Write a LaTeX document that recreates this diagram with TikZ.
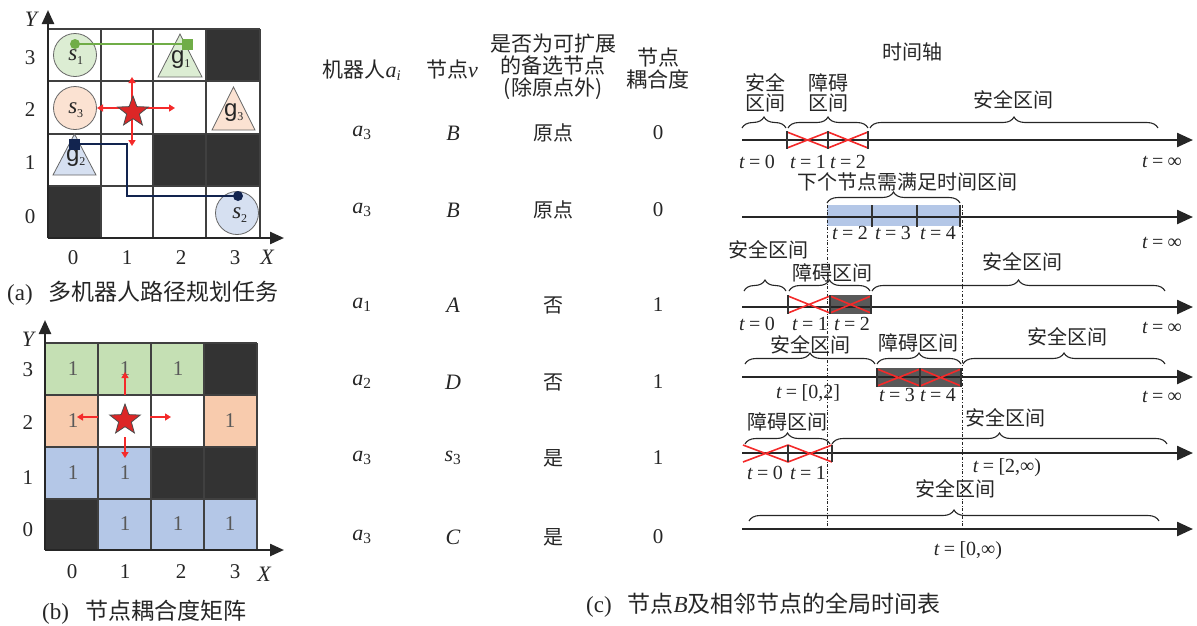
\documentclass[tikz,border=0pt]{standalone}
\usepackage{fontspec}
\setmainfont{Liberation Serif}
\newfontfamily\cjk{Noto Sans CJK SC}
\newfontfamily\gfont{Liberation Sans}
\usetikzlibrary{arrows.meta,shapes.geometric,decorations.pathreplacing,calc}
\definecolor{blk}{HTML}{333333}
\definecolor{dbox}{HTML}{595959}
\definecolor{gL}{HTML}{DCEDD3}
\definecolor{pL}{HTML}{FBE2D2}
\definecolor{bL}{HTML}{D6E0F1}
\definecolor{gM}{HTML}{C5E0B4}
\definecolor{pM}{HTML}{F8CBAD}
\definecolor{bM}{HTML}{B4C7E7}
\definecolor{pgreen}{HTML}{70AD47}
\definecolor{pnavy}{HTML}{12244F}
\definecolor{rd}{HTML}{F42A2A}
\definecolor{txtc}{HTML}{262626}
\newcommand\mi[1]{{\rmfamily\itshape #1}}
\newcommand\sbs[1]{{\rmfamily\textsubscript{#1}}}
\newcommand\tq[1]{{\rmfamily\itshape t}{\rmfamily\hspace{0.22em}=\hspace{0.22em}#1}}
\begin{document}
\begin{tikzpicture}[x=1pt,y=-1pt,
  txt/.style={inner sep=0pt,text=txtc},
  cn/.style={txt,font=\cjk\fontsize{20}{21}\selectfont,align=center},
  cnh/.style={txt,font=\cjk\fontsize{21}{22}\selectfont,align=center},
  captxt/.style={txt,font=\cjk\fontsize{23}{24}\selectfont},
  rm/.style={txt,font=\rmfamily\fontsize{22}{22}\selectfont},
  rmd/.style={txt,font=\rmfamily\fontsize{21}{22}\selectfont},
  tl/.style={txt,font=\rmfamily\fontsize{20}{21}\selectfont},
  num/.style={txt,font=\rmfamily\fontsize{21}{22}\selectfont},
  gl/.style={draw=black!75,line width=1.1pt},
  axarr/.style={line width=2.4pt,draw=txtc,-{Triangle[length=14pt,width=12pt]}},
  tax/.style={line width=2.4pt,draw=txtc,-{Triangle[length=16pt,width=14pt]}},
  tickmark/.style={line width=2.6pt,draw=blk},
  rx/.style={draw=rd,line width=1.6pt},
  rarr/.style={draw=rd,line width=1.6pt,-{Triangle[length=6pt,width=7pt]}},
  rarr2/.style={draw=rd,line width=1.6pt,{Triangle[length=6pt,width=7pt]}-{Triangle[length=6pt,width=7pt]}},
  br/.style={decorate,decoration={brace,amplitude=11pt},line width=1.1pt,draw=txtc},
  dd/.style={dash dot,line width=0.7pt,draw=txtc},
  redstar/.style={star,star points=5,star point ratio=2.4,minimum size=32pt,inner sep=0pt,fill=rd!90!black,draw=black!70,line width=0.8pt},
  cir/.style={circle,minimum size=43pt,inner sep=0pt,draw=black!60,line width=0.8pt},
  tri/.style={draw=black!60,line width=0.8pt},
  lbl/.style={txt,font=\rmfamily\itshape\fontsize{23}{23}\selectfont},
  glbl/.style={txt,font=\gfont\fontsize{24}{24}\selectfont},
  one/.style={txt,text=black!65,font=\rmfamily\fontsize{21}{21}\selectfont}
]
\useasboundingbox (0,0) rectangle (1197,625);

% ================= (a) =================
\fill[blk] (206,29) rectangle (260,81);
\fill[blk] (153,134) rectangle (260,186);
\fill[blk] (48,186) rectangle (101,238);
\foreach \x in {48,101,153,206,260} \draw[gl] (\x,29) -- (\x,238);
\foreach \y in {29,81,134,186,238} \draw[gl] (48,\y) -- (260,\y);
\coordinate (ao) at (48,238);
\coordinate (ay) at (48,10);
\coordinate (axe) at (284,238);
\draw[axarr] (ao) -- (ay);
\draw[axarr] (ao) -- (axe);
\node[lbl,font=\rmfamily\itshape\fontsize{22}{22}\selectfont] (aY) at (31,19) {Y};
\node[lbl,font=\rmfamily\itshape\fontsize{22}{22}\selectfont] (aX) at (267,257) {X};
\node[num] (ar3) at (30,58) {3};
\node[num] (ar2) at (30,110) {2};
\node[num] (ar1) at (30,163) {1};
\node[num] (ar0) at (30,217) {0};
\node[num] (ac0) at (73,258) {0};
\node[num] (ac1) at (127,258) {1};
\node[num] (ac2) at (181,258) {2};
\node[num] (ac3) at (235,258) {3};
% goals
\draw[tri,fill=gL] (158,77) -- (180,34) -- (202,77) -- cycle;
\draw[tri,fill=pL] (212,130) -- (233.5,87) -- (255,130) -- cycle;
\draw[tri,fill=bL] (53,175) -- (74.5,134) -- (96,175) -- cycle;
\node[glbl] (g1) at (181,60) {g\sbs{\fontsize{12}{12}\selectfont 1}};
\node[glbl] (g3) at (234,113) {g\sbs{\fontsize{12}{12}\selectfont 3}};
\node[glbl] (g2) at (76,158) {g\sbs{\fontsize{12}{12}\selectfont 2}};
% starts
\node[cir,fill=gL] (s1) at (75,55) {};
\node[cir,fill=pL] (s3) at (75,108) {};
\node[cir,fill=bL] (s2) at (237,213) {};
\node[lbl] (s1l) at (76,57) {s\sbs{\upshape\fontsize{12}{12}\selectfont 1}};
\node[lbl] (s3l) at (76,110) {s\sbs{\upshape\fontsize{12}{12}\selectfont 3}};
\node[lbl] (s2l) at (240,215) {s\sbs{\upshape\fontsize{12}{12}\selectfont 2}};
% paths
\coordinate (p1a) at (75,44);
\coordinate (p1b) at (187,44);
\draw[pgreen,line width=2.4pt] (p1a) -- (p1b);
\fill[pgreen] (p1a) circle (5);
\fill[pgreen] ($(p1b)+(-5.5,-5.5)$) rectangle ($(p1b)+(5.5,5.5)$);
\coordinate (p2a) at (238,196);
\coordinate (p2b) at (127,196);
\coordinate (p2c) at (127,144);
\coordinate (p2d) at (74,144);
\draw[pnavy,line width=2.4pt] (p2a) -- (p2b) -- (p2c) -- (p2d);
\fill[pnavy] (p2a) circle (5);
\fill[pnavy] ($(p2d)+(-5.5,-5.5)$) rectangle ($(p2d)+(5.5,5.5)$);
% star and arrows
\coordinate (aL) at (97,108);
\coordinate (aR) at (175,108);
\coordinate (aU) at (132,77);
\coordinate (aD) at (132,146);
\draw[rarr2] (aL) -- (aR);
\draw[rarr2] (aU) -- (aD);
\node[redstar] (stA) at (133,112) {};
\node[captxt,anchor=west] (capa) at (7,293) {{\rmfamily (a)}\hspace{16pt}多机器人路径规划任务};

% ================= (b) =================
\fill[gM] (45,343) rectangle (204,395);
\fill[blk] (204,343) rectangle (257,395);
\fill[pM] (45,395) rectangle (98,447);
\fill[pM] (204,395) rectangle (257,447);
\fill[bM] (45,447) rectangle (151,499);
\fill[blk] (151,447) rectangle (257,499);
\fill[blk] (45,499) rectangle (98,550);
\fill[bM] (98,499) rectangle (257,550);
\foreach \x in {45,98,151,204,257} \draw[gl] (\x,343) -- (\x,550);
\foreach \y in {343,395,447,499,550} \draw[gl] (45,\y) -- (257,\y);
\coordinate (bo) at (45,550);
\coordinate (by) at (45,320);
\coordinate (bx) at (284,550);
\draw[axarr] (bo) -- (by);
\draw[axarr] (bo) -- (bx);
\node[lbl,font=\rmfamily\itshape\fontsize{22}{22}\selectfont] (bY) at (28,339) {Y};
\node[lbl,font=\rmfamily\itshape\fontsize{22}{22}\selectfont] (bX) at (264,574) {X};
\node[num] (br3) at (28,370) {3};
\node[num] (br2) at (28,423) {2};
\node[num] (br1) at (28,478) {1};
\node[num] (br0) at (28,530) {0};
\node[num] (bc0) at (72,572) {0};
\node[num] (bc1) at (125,572) {1};
\node[num] (bc2) at (181,572) {2};
\node[num] (bc3) at (235,572) {3};
\foreach \x/\y/\n in {73/369/a,125/369/b,178/369/c,73/421/d,230/421/e,73/473/f,125/473/g,125/524/h,178/524/i,230/524/j}
  \node[one] (one\n) at (\x,\y) {1};
\coordinate (bu1) at (125,395); \coordinate (bu2) at (125,372);
\coordinate (bd1) at (125,437); \coordinate (bd2) at (125,458);
\coordinate (bl1) at (98,417);  \coordinate (bl2) at (77,417);
\coordinate (bq1) at (150,417); \coordinate (bq2) at (171,417);
\draw[rarr] (bu1) -- (bu2);
\draw[rarr] (bd1) -- (bd2);
\draw[rarr] (bl1) -- (bl2);
\draw[rarr] (bq1) -- (bq2);
\node[redstar] (stB) at (125,420) {};
\node[captxt,anchor=west] (capb) at (42,612) {{\rmfamily (b)}\hspace{16pt}节点耦合度矩阵};

% ================= table =================
\node[cnh] (h1) at (362,70) {机器人\mi{\fontsize{22}{22}\selectfont a}\sbs{\itshape i}};
\node[cnh] (h2) at (452,70) {节点\mi{\fontsize{22}{22}\selectfont v}};
\node[cnh,font=\cjk\fontsize{21}{22}\selectfont] (h3) at (553,67) {是否为可扩展\\的备选节点\\(除原点外)};
\node[cnh] (h4) at (658,69) {节点\\耦合度};
\foreach \y/\a/\v/\c/\d [count=\i] in {
  133/3/B/原点/0,
  210/3/B/原点/0,
  305/1/A/否/1,
  382/2/D/否/1,
  458/3/{s\sbs{\upshape 3}}/是/1,
  537/3/C/是/0}{
  \node[rm] (ta\i) at (362,\y) {\mi{a}\sbs{\a}};
  \node[rm] (tv\i) at (453,\y) {\mi{\v}};
  \node[cn] (tc\i) at (553,\y) {\c};
  \node[rmd] (td\i) at (658,\y) {\d};
}
\node[captxt,anchor=west] (capc) at (586,605) {{\rmfamily (c)}\hspace{16pt}节点\mi{B}及相邻节点的全局时间表};

% ================= timelines =================
\node[cn] (tax) at (912,52) {时间轴};
% TL1
\coordinate (t1s) at (742,140); \coordinate (t1e) at (1193,140);
\draw[tax] (t1s) -- (t1e);
\draw[rx] (787,132) -- (828,148) (787,148) -- (828,132);
\draw[rx] (828,132) -- (868,148) (828,148) -- (868,132);
\foreach \x in {787,828,868} \draw[tickmark] (\x,131) -- (\x,149);
\draw[br] (742,128) -- (786,128);
\draw[br] (788,128) -- (868,128);
\draw[br] (870,128) -- (1158,128);
\node[cn,font=\cjk\fontsize{20}{20}\selectfont] (l11) at (765,93) {安全\\区间};
\node[cn,font=\cjk\fontsize{20}{20}\selectfont] (l12) at (828,93) {障碍\\区间};
\node[cn] (l13) at (1013,100) {安全区间};
\node[tl] (t10) at (757,162) {\tq{0}};
\node[tl] (t11) at (808,162) {\tq{1}};
\node[tl] (t12) at (848,162) {\tq{2}};
\node[tl] (t1i) at (1162,162) {\tq{∞}};
\node[cn] (next) at (907,182) {下个节点需满足时间区间};
% TL2
\fill[bM] (827,205) rectangle (960,226);
\coordinate (t2s) at (742,217); \coordinate (t2e) at (1193,217);
\draw[tax] (t2s) -- (t2e);
\foreach \x in {872,917,960} \draw[tickmark] (\x,205) -- (\x,227);
\draw[br] (827,203) -- (960,203);
\node[tl] (t22) at (850,233) {\tq{2}};
\node[tl] (t23) at (893,233) {\tq{3}};
\node[tl] (t24) at (938,233) {\tq{4}};
\node[tl] (t2i) at (1162,243) {\tq{∞}};
% dash-dot guides
\coordinate (d1a) at (827,205); \coordinate (d1b) at (827,528);
\coordinate (d2a) at (962,205); \coordinate (d2b) at (962,528);
\draw[dd] (d1a) -- (d1b);
\draw[dd] (d2a) -- (d2b);
% TL3
\fill[dbox] (830,295) rectangle (871,314);
\coordinate (t3s) at (742,307); \coordinate (t3e) at (1193,307);
\draw[tax] (t3s) -- (t3e);
\draw[rx] (788,296) -- (830,313) (788,313) -- (830,296);
\draw[rx] (830,296) -- (871,313) (830,313) -- (871,296);
\foreach \x in {788,830,871} \draw[tickmark] (\x,295) -- (\x,314);
\draw[br] (744,291) -- (786,291);
\draw[br] (789,291) -- (870,291);
\draw[br] (872,291) -- (1165,291);
\node[cn] (l31) at (768,250) {安全区间};
\node[cn] (l32) at (832,273) {障碍区间};
\node[cn] (l33) at (1022,262) {安全区间};
\node[tl] (t30) at (757,324) {\tq{0}};
\node[tl] (t31) at (810,324) {\tq{1}};
\node[tl] (t32) at (852,324) {\tq{2}};
\node[tl] (t3i) at (1162,328) {\tq{∞}};
% TL4
\fill[dbox] (877,368) rectangle (961,387);
\coordinate (t4s) at (742,377); \coordinate (t4e) at (1193,377);
\draw[tax] (t4s) -- (t4e);
\draw[rx] (877,369) -- (920,386) (877,386) -- (920,369);
\draw[rx] (920,369) -- (961,386) (920,386) -- (961,369);
\foreach \x in {877,920,961} \draw[tickmark] (\x,368) -- (\x,387);
\draw[br] (745,364) -- (875,364);
\draw[br] (877,364) -- (961,364);
\draw[br] (963,364) -- (1165,364);
\node[cn] (l41) at (810,345) {安全区间};
\node[cn] (l42) at (918,343) {障碍区间};
\node[cn] (l43) at (1067,337) {安全区间};
\node[tl] (t40) at (808,393) {\tq{[0,2]}};
\node[tl] (t43) at (897,395) {\tq{3}};
\node[tl] (t44) at (938,395) {\tq{4}};
\node[tl] (t4i) at (1162,397) {\tq{∞}};
% TL5
\coordinate (t5s) at (742,453); \coordinate (t5e) at (1193,453);
\draw[tax] (t5s) -- (t5e);
\draw[rx] (743,445) -- (788,462) (743,462) -- (788,445);
\draw[rx] (788,445) -- (832,462) (788,462) -- (832,445);
\foreach \x in {788,832} \draw[tickmark] (\x,445) -- (\x,462);
\draw[br] (745,444) -- (830,444);
\draw[br] (832,444) -- (1167,444);
\node[cn] (l51) at (787,422) {障碍区间};
\node[cn] (l52) at (1005,418) {安全区间};
\node[tl] (t50) at (765,473) {\tq{0}};
\node[tl] (t51) at (808,473) {\tq{1}};
\node[tl] (t5r) at (1007,468) {\tq{[2,∞)}};
% TL6
\coordinate (t6s) at (742,529); \coordinate (t6e) at (1193,529);
\draw[tax] (t6s) -- (t6e);
\draw[br] (749,521) -- (1159,521);
\node[cn] (l61) at (955,489) {安全区间};
\node[tl] (t6r) at (968,551) {\tq{[0,∞)}};
\end{tikzpicture}
\end{document}
